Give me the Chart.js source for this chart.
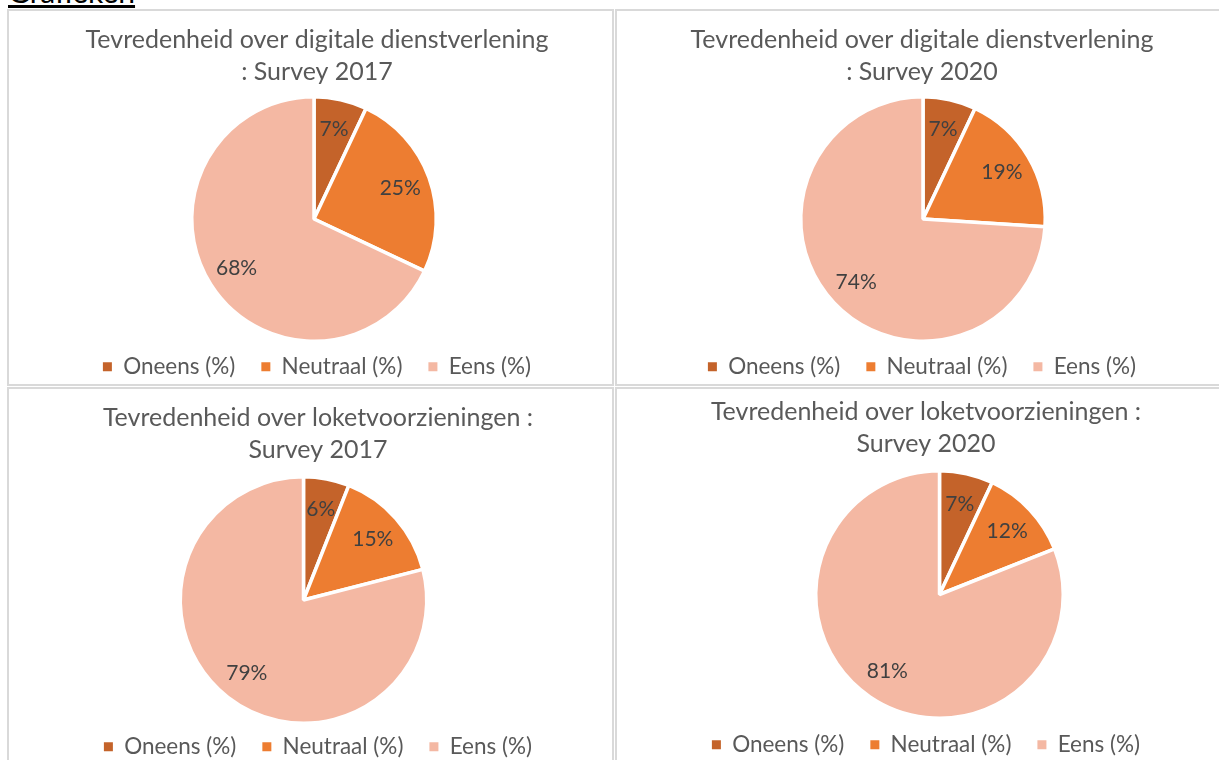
<!DOCTYPE html>
<html>
<head>
<meta charset="utf-8">
<title>Grafieken</title>
<script src="https://cdn.jsdelivr.net/npm/chart.js@4.4.1/dist/chart.umd.min.js"></script>
<style>
  html, body { margin: 0; padding: 0; background: #fff; overflow: hidden; }
  body { width: 1219px; height: 760px; position: relative; font-family: Lato, sans-serif; }
  .heading { position: absolute; left: 8px; top: -24px; font-size: 30px; line-height: 30px; color: #000; text-decoration: underline; }
  .panel { position: absolute; box-sizing: border-box; border: 2px solid #d9d9d9; }
  canvas { position: absolute; }
</style>
</head>
<body>
<div class="heading">Grafieken</div>

<div class="panel" style="left:7px;top:9px;width:607px;height:377px"></div>
<div class="panel" style="left:615px;top:9px;width:700px;height:377px"></div>
<div class="panel" style="left:7px;top:387px;width:607px;height:400px"></div>
<div class="panel" style="left:615px;top:387px;width:700px;height:400px"></div>

<canvas id="digitaal2017" width="620" height="377" style="left:7px;top:11px"></canvas>
<canvas id="digitaal2020" width="610" height="377" style="left:617px;top:11px"></canvas>
<canvas id="loket2017" width="618" height="379" style="left:9px;top:389px"></canvas>
<canvas id="loket2020" width="618" height="377" style="left:617px;top:389px"></canvas>

<script>
// answer categories and slice colours shared by all four pies
var categories = ['Oneens (%)', 'Neutraal (%)', 'Eens (%)'];
var sliceColors = ['#C4632A', '#ED7D31', '#F4B8A3'];

// survey results in percent
var digitaal2017 = [7, 25, 68];
var digitaal2020 = [7, 19, 74];
var loket2017 = [6, 15, 79];
var loket2020 = [7, 12, 81];

var titleDigitaal2017 = ['Tevredenheid over digitale dienstverlening', ': Survey 2017'];
var titleDigitaal2020 = ['Tevredenheid over digitale dienstverlening', ': Survey 2020'];
var titleLoket2017 = ['Tevredenheid over loketvoorzieningen :', 'Survey 2017'];
var titleLoket2020 = ['Tevredenheid over loketvoorzieningen :', 'Survey 2020'];

Chart.defaults.font.family = 'Lato, sans-serif';

// put the pie at a fixed spot inside its canvas, independent of title/legend heights
var pieArea = {
    id: 'pieArea',
    afterLayout: function (chart, args, opts) {
        var half = opts.r + 3;
        var a = chart.chartArea;
        a.left = opts.cx - half;
        a.right = opts.cx + half;
        a.top = opts.cy - half;
        a.bottom = opts.cy + half;
        a.width = a.right - a.left;
        a.height = a.bottom - a.top;
    }
};

// percentage text inside each slice
var sliceLabels = {
    id: 'sliceLabels',
    afterDatasetsDraw: function (chart, args, opts) {
        var ctx = chart.ctx;
        var meta = chart.getDatasetMeta(0);
        var values = chart.data.datasets[0].data;
        ctx.save();
        ctx.font = opts.size + 'px Lato, sans-serif';
        ctx.fillStyle = opts.color;
        ctx.textAlign = 'center';
        ctx.textBaseline = 'middle';
        meta.data.forEach(function (arc, i) {
            var p = arc.getProps(['x', 'y', 'startAngle', 'endAngle', 'outerRadius'], true);
            var mid = (p.startAngle + p.endAngle) / 2;
            var d = p.outerRadius * opts.offset;
            ctx.fillText(values[i] + '%', p.x + Math.cos(mid) * d, p.y + Math.sin(mid) * d);
        });
        ctx.restore();
    }
};

// legend squares without the white slice outline
function legendLabels(chart) {
    var items = Chart.overrides.pie.plugins.legend.labels.generateLabels(chart);
    items.forEach(function (item) { item.lineWidth = 0; });
    return items;
}

function makePie(id, title, values, pie, titleTop) {
    var ctx = document.getElementById(id).getContext('2d');
    return new Chart(ctx, {
        type: 'pie',
        data: {
            labels: categories,
            datasets: [{
                data: values,
                backgroundColor: sliceColors,
                borderColor: '#ffffff',
                borderWidth: 3.5
            }]
        },
        options: {
            responsive: false,
            animation: false,
            plugins: {
                title: {
                    display: true,
                    text: title,
                    color: '#595959',
                    font: { size: 25, weight: 'normal', lineHeight: 1.28 },
                    padding: { top: titleTop, bottom: 0 }
                },
                legend: {
                    position: 'bottom',
                    labels: {
                        color: '#595959',
                        font: { size: 22.5 },
                        boxWidth: 9,
                        boxHeight: 9,
                        padding: 26,
                        generateLabels: legendLabels
                    }
                },
                tooltip: { enabled: false },
                pieArea: pie,
                sliceLabels: { size: 21, color: '#404040', offset: 0.75 }
            }
        },
        plugins: [pieArea, sliceLabels]
    });
}

makePie('digitaal2017', titleDigitaal2017, digitaal2017, { cx: 307, cy: 208, r: 121 }, 13);
makePie('digitaal2020', titleDigitaal2020, digitaal2020, { cx: 306, cy: 208, r: 121 }, 13);
makePie('loket2017', titleLoket2017, loket2017, { cx: 294.5, cy: 211, r: 122 }, 13);
makePie('loket2020', titleLoket2020, loket2020, { cx: 322.5, cy: 205.5, r: 122.5 }, 7);
</script>
</body>
</html>
